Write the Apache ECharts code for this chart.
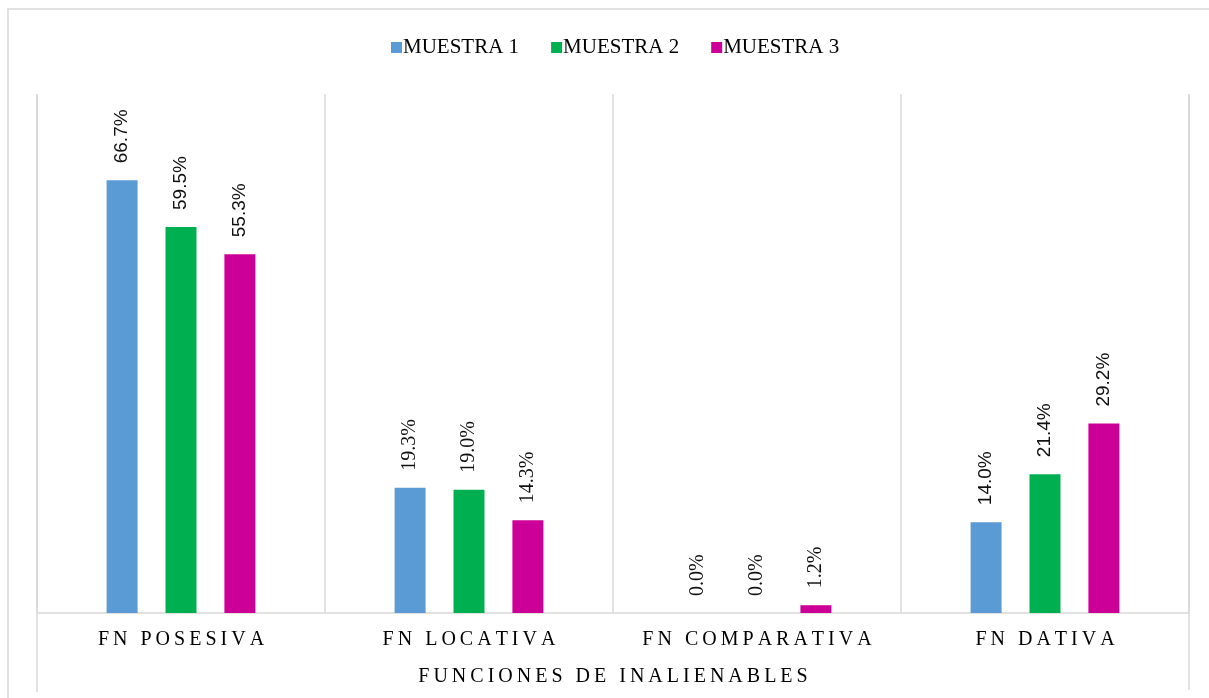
<!DOCTYPE html>
<html>
<head>
<meta charset="utf-8">
<script src="https://cdn.jsdelivr.net/npm/echarts@6/dist/echarts.min.js"></script>
<style>
html,body{margin:0;padding:0;background:#fff;}
#c{width:1209px;height:698px;}
</style>
</head>
<body>
<div id="c"></div>
<script>
var categories = ['FN POSESIVA', 'FN LOCATIVA', 'FN COMPARATIVA', 'FN DATIVA'];
var seriesNames = ['MUESTRA 1', 'MUESTRA 2', 'MUESTRA 3'];
var muestra1 = [66.7, 19.3, 0.0, 14.0];
var muestra2 = [59.5, 19.0, 0.0, 21.4];
var muestra3 = [55.3, 14.3, 1.2, 29.2];
var axisTitle = 'FUNCIONES DE INALIENABLES';

var colors = ['#5B9BD5', '#00B050', '#CC0099'];
var labelFonts = ['"Liberation Sans"', '"Liberation Serif"', '"Liberation Serif"', '"Liberation Sans"'];
var labelSizes = [19, 20, 20, 19];

function spaced(s) { return s.split('').join('\u2009'); }

var allVals = [muestra1, muestra2, muestra3];
var series = allVals.map(function (vals, k) {
  return {
    name: seriesNames[k],
    type: 'bar',
    data: vals.map(function (v, i) {
      return {
        value: v,
        label: {
          fontFamily: labelFonts[i],
          fontSize: labelSizes[i] + k * 0.01 + i * 0.001
        }
      };
    }),
    barWidth: 31,
    barGap: '90%',
    itemStyle: { color: colors[k] },
    label: {
      show: true,
      position: 'top',
      rotate: 90,
      align: 'left',
      verticalAlign: 'middle',
      distance: 17,
      color: '#111',
      formatter: function (p) { return p.value.toFixed(1) + '%'; }
    }
  };
});

var chart = echarts.init(document.getElementById('c'), null, { renderer: 'canvas' });
chart.setOption({
  animation: false,
  backgroundColor: '#fff',
  legend: {
    data: seriesNames,
    top: 32,
    left: 386,
    icon: 'rect',
    itemWidth: 11,
    itemHeight: 11,
    itemGap: 32,
    textStyle: { fontFamily: '"Liberation Serif"', fontSize: 21, color: '#000', padding: [0, 0, 0, -4] }
  },
  grid: { left: 37, right: 20, top: 94, bottom: 85, containLabel: false },
  xAxis: {
    type: 'category',
    data: categories,
    axisLine: { lineStyle: { color: '#d9d9d9', width: 1.5 } },
    axisTick: { show: false },
    splitLine: { show: true, interval: 0, lineStyle: { color: '#d9d9d9', width: 1.5 } },
    axisLabel: {
      interval: 0,
      margin: 17,
      fontFamily: '"Liberation Serif"',
      fontSize: 20,
      color: '#000',
      formatter: function (v) { return spaced(v); }
    },
    name: spaced(axisTitle),
    nameLocation: 'middle',
    nameGap: 54,
    nameTextStyle: { fontFamily: '"Liberation Serif"', fontSize: 20, color: '#000' }
  },
  yAxis: {
    type: 'value',
    min: 0,
    max: 80,
    show: false,
    splitLine: { show: false }
  },
  graphic: [
    { type: 'rect', shape: { x: 8, y: 9, width: 1230, height: 720 }, style: { fill: 'none', stroke: '#d9d9d9', lineWidth: 1.5 }, silent: true },
    { type: 'line', shape: { x1: 37, y1: 94, x2: 37, y2: 692 }, style: { stroke: '#d9d9d9', lineWidth: 1.5 }, silent: true },
    { type: 'line', shape: { x1: 1189, y1: 94, x2: 1189, y2: 690 }, style: { stroke: '#d9d9d9', lineWidth: 1.5 }, silent: true }
  ],
  series: series
});
</script>
</body>
</html>
